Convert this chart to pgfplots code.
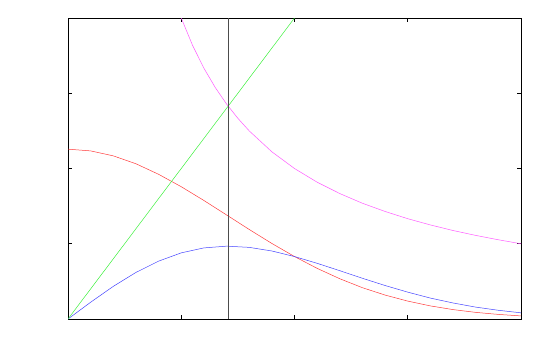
\documentclass[border=0pt]{standalone}
\usepackage{pgfplots}
\pgfplotsset{compat=1.18}
\usetikzlibrary{calc}
\definecolor{gpmag}{RGB}{255,90,255}
\definecolor{gpred}{RGB}{255,60,60}
\definecolor{gpblue}{RGB}{70,70,255}
\definecolor{gpgreen}{RGB}{60,240,60}
\begin{document}
\begin{tikzpicture}
\begin{axis}[
  name=ax,
  scale only axis,
  width=453bp,height=301bp,
  xmin=0,xmax=4,ymin=0,ymax=4,
  xtick={1,2,3},ytick={1,2,3},
  xticklabels={},yticklabels={},
  tick align=inside,
  major tick length=4bp,
  tick style={black,line width=0.6bp},
  axis line style={black,line width=0.8bp},
  every axis plot/.append style={line width=0.5bp,mark=none},
  clip=true]
% red
\addplot[color=gpred] coordinates {
(0,2.257) (0.2,2.234) (0.4,2.168) (0.6,2.063) (0.8,1.923) (1.0,1.758)
(1.2,1.575) (1.4,1.383) (1.6,1.190) (1.8,1.004) (2.0,0.830) (2.2,0.673)
(2.4,0.535) (2.6,0.416) (2.8,0.318) (3.0,0.238) (3.2,0.174) (3.4,0.125)
(3.6,0.088) (3.8,0.061) (4.0,0.041)};
% blue
\addplot[color=gpblue] coordinates {
(0,0) (0.2,0.223) (0.4,0.434) (0.6,0.619) (0.8,0.769) (1.0,0.879)
(1.2,0.945) (1.4,0.968) (1.6,0.952) (1.8,0.904) (2.0,0.830) (2.2,0.740)
(2.4,0.642) (2.6,0.541) (2.8,0.445) (3.0,0.357) (3.2,0.278) (3.4,0.213)
(3.6,0.158) (3.8,0.116) (4.0,0.082)};
% green
\addplot[color=gpgreen] coordinates {(0,0) (2,4)};
% magenta
\addplot[color=gpmag] coordinates {
(1.0,4.000) (1.1,3.636) (1.2,3.333) (1.3,3.077) (1.4,2.857) (1.5,2.667)
(1.6,2.500) (1.8,2.222) (2.0,2.000) (2.2,1.818) (2.4,1.667) (2.6,1.538)
(2.8,1.429) (3.0,1.333) (3.2,1.250) (3.4,1.176) (3.6,1.111) (3.8,1.053)
(4.0,1.000)};
% vertical line
\addplot[color=black!70,line width=1.1bp] coordinates {(1.4142,0) (1.4142,4)};
\end{axis}
\path[use as bounding box] ($(ax.south west)+(-68bp,-31bp)$) rectangle ($(ax.north east)+(29bp,18bp)$);
\end{tikzpicture}
\end{document}
